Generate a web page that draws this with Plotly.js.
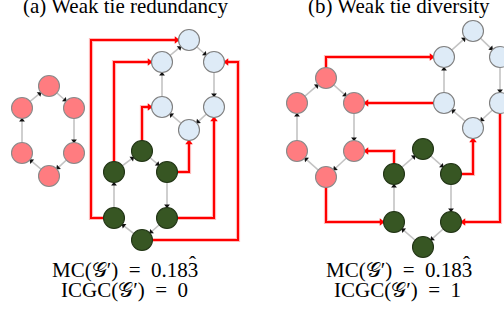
<!DOCTYPE html>
<html><head><meta charset="utf-8">
<script src="https://cdn.plot.ly/plotly-3.0.1.min.js"></script>
<style>html,body{margin:0;padding:0;background:#fff}#chart{width:504px;height:321px}</style>
</head><body><div id="chart"></div>
<script>
// ---- data ----
const panelTitles = ['(a) Weak tie redundancy', '(b) Weak tie diversity'];
const captionMC = ['MC(\uD835\uDCA2\u2032)\u2002=\u20020.183', 'MC(\uD835\uDCA2\u2032)\u2002=\u20020.183'];
const captionICGC = ['ICGC(\uD835\uDCA2\u2032)\u2002=\u20020', 'ICGC(\uD835\uDCA2\u2032)\u2002=\u20021'];
const repeatMark = '\u02C6';

// hexagon node order: top, upper-right, lower-right, bottom, lower-left, upper-left
// directed cycle: node i -> node i+1
const pinkA_x = [49, 74, 74, 49, 22, 22];
const pinkA_y = [86, 108, 153, 176, 153, 108];
const blueA_x = [189, 214, 214, 189, 162, 162];
const blueA_y = [40, 62, 107, 130, 107, 62];
const greenA_x = [142, 167, 167, 142, 114, 114];
const greenA_y = [151, 172, 218, 240, 218, 172];

const pinkB_x = [326, 354, 354, 326, 297, 297];
const pinkB_y = [78, 103, 151, 177, 151, 103];
const blueB_x = [473, 500, 500, 473, 444, 444];
const blueB_y = [31, 57, 103, 128, 103, 57];
const greenB_x = [423, 451, 451, 423, 394, 394];
const greenB_y = [149, 174, 222, 247, 222, 174];

// weak ties (red): [source community, source node, target community, target node, route, bend x]
const weakTiesA = [
  ['greenA', 4, 'blueA', 0, 'HVH', 91],
  ['greenA', 5, 'blueA', 5, 'VH', null],
  ['greenA', 0, 'blueA', 4, 'VH', null],
  ['greenA', 1, 'blueA', 3, 'HV', null],
  ['greenA', 2, 'blueA', 2, 'HV', null],
  ['greenA', 3, 'blueA', 1, 'HVH', 238]
];
const weakTiesB = [
  ['pinkB', 0, 'blueB', 5, 'VH', null],
  ['blueB', 4, 'pinkB', 1, 'H', null],
  ['greenB', 5, 'pinkB', 2, 'VH', null],
  ['greenB', 1, 'blueB', 3, 'HV', null],
  ['blueB', 2, 'greenB', 2, 'VH', null],
  ['pinkB', 3, 'greenB', 4, 'VH', null]
];

// ---- build ----
const comms = {
  pinkA: {x: pinkA_x, y: pinkA_y, fill: '#ff7c80', edge: '#8a8a8a'},
  blueA: {x: blueA_x, y: blueA_y, fill: '#deebf7', edge: '#7f7f7f'},
  greenA: {x: greenA_x, y: greenA_y, fill: '#375623', edge: '#223516'},
  pinkB: {x: pinkB_x, y: pinkB_y, fill: '#ff7c80', edge: '#8a8a8a'},
  blueB: {x: blueB_x, y: blueB_y, fill: '#deebf7', edge: '#7f7f7f'},
  greenB: {x: greenB_x, y: greenB_y, fill: '#375623', edge: '#223516'}
};
const R = 10;
const traces = [];
const grayHeads = {x: [], y: [], a: []};
const redHeads = {x: [], y: [], a: []};
function ang(ux, uy) { return Math.atan2(ux, -uy) * 180 / Math.PI; }

Object.keys(comms).forEach(k => {
  const c = comms[k];
  const lx = [], ly = [];
  for (let i = 0; i < 6; i++) {
    const j = (i + 1) % 6;
    const sx = c.x[i], sy = c.y[i], tx = c.x[j], ty = c.y[j];
    const d = Math.hypot(tx - sx, ty - sy);
    const ux = (tx - sx) / d, uy = (ty - sy) / d;
    lx.push(sx, tx - ux * (R + 1), null); ly.push(sy, ty - uy * (R + 1), null);
    grayHeads.x.push(tx - ux * (R + 2.2)); grayHeads.y.push(ty - uy * (R + 2.2)); grayHeads.a.push(ang(ux, uy));
  }
  traces.push({type: 'scatter', mode: 'lines', x: lx, y: ly, hoverinfo: 'skip',
    line: {color: '#c3c3c3', width: 1.6}});
});

const rx = [], ry = [];
weakTiesA.concat(weakTiesB).forEach(e => {
  const s = comms[e[0]], t = comms[e[2]];
  const sx = s.x[e[1]], sy = s.y[e[1]], tx = t.x[e[3]], ty = t.y[e[3]];
  let pts;
  if (e[4] === 'H') pts = [[sx, sy], [tx, sy]];
  else if (e[4] === 'VH') pts = [[sx, sy], [sx, ty], [tx, ty]];
  else if (e[4] === 'HV') pts = [[sx, sy], [tx, sy], [tx, ty]];
  else pts = [[sx, sy], [e[5], sy], [e[5], ty], [tx, ty]];
  const n = pts.length;
  const px = pts[n - 2][0], py = pts[n - 2][1];
  const d = Math.hypot(tx - px, ty - py);
  const ux = (tx - px) / d, uy = (ty - py) / d;
  pts[n - 1] = [tx - ux * (R + 3), ty - uy * (R + 3)];
  pts.forEach(p => { rx.push(p[0]); ry.push(p[1]); });
  rx.push(null); ry.push(null);
  redHeads.x.push(tx - ux * (R + 2.6)); redHeads.y.push(ty - uy * (R + 2.6)); redHeads.a.push(ang(ux, uy));
});
traces.push({type: 'scatter', mode: 'lines', x: rx, y: ry, hoverinfo: 'skip',
  line: {color: 'rgba(255,60,60,0.35)', width: 4.2}});
traces.push({type: 'scatter', mode: 'lines', x: rx, y: ry, hoverinfo: 'skip',
  line: {color: '#ff0000', width: 2}});

traces.push({type: 'scatter', mode: 'markers', x: grayHeads.x, y: grayHeads.y, hoverinfo: 'skip',
  marker: {symbol: 'triangle-up', size: 5, color: '#111', angle: grayHeads.a, line: {width: 0}}});
traces.push({type: 'scatter', mode: 'markers', x: redHeads.x, y: redHeads.y, hoverinfo: 'skip',
  marker: {symbol: 'triangle-up', size: 6.5, color: '#ff0000', angle: redHeads.a, line: {width: 0}}});

Object.keys(comms).forEach(k => {
  const c = comms[k];
  traces.push({type: 'scatter', mode: 'markers', x: c.x, y: c.y, hoverinfo: 'skip',
    marker: {size: 21, color: c.fill, line: {color: c.edge, width: 1.1}}});
});

const serif = 'Liberation Serif';
const capSize = 21;
const cv = document.createElement('canvas').getContext('2d');
cv.font = capSize + 'px "Liberation Serif"';
const ann = [];
const titleCx = [125, 399];
const mcCx = [125, 399];
const icgcCx = [124, 397];
panelTitles.forEach((t, i) => ann.push({x: titleCx[i], y: 6, xref: 'x', yref: 'y', text: t, showarrow: false,
  yanchor: 'middle', font: {family: serif, size: 21, color: '#000'}}));
captionMC.forEach((t, i) => {
  ann.push({x: mcCx[i], y: 270, xref: 'x', yref: 'y', text: t, showarrow: false,
    yanchor: 'middle', font: {family: serif, size: capSize, color: '#000'}});
  const wAll = cv.measureText(t).width, w3 = cv.measureText('3').width;
  ann.push({x: mcCx[i] + wAll / 2 - w3 / 2, y: 264, xref: 'x', yref: 'y', text: repeatMark, showarrow: false,
    xanchor: 'center', yanchor: 'middle', font: {family: serif, size: capSize, color: '#000'}});
});
captionICGC.forEach((t, i) => ann.push({x: icgcCx[i], y: 290, xref: 'x', yref: 'y', text: t, showarrow: false,
  yanchor: 'middle', font: {family: serif, size: capSize, color: '#000'}}));

const layout = {
  width: 504, height: 321, margin: {l: 0, r: 0, t: 0, b: 0},
  paper_bgcolor: '#fff', plot_bgcolor: '#fff', showlegend: false,
  xaxis: {range: [0, 504], visible: false, fixedrange: true},
  yaxis: {range: [321, 0], visible: false, fixedrange: true},
  annotations: ann
};
Plotly.newPlot('chart', traces, layout, {staticPlot: true, displayModeBar: false});
</script></body></html>
